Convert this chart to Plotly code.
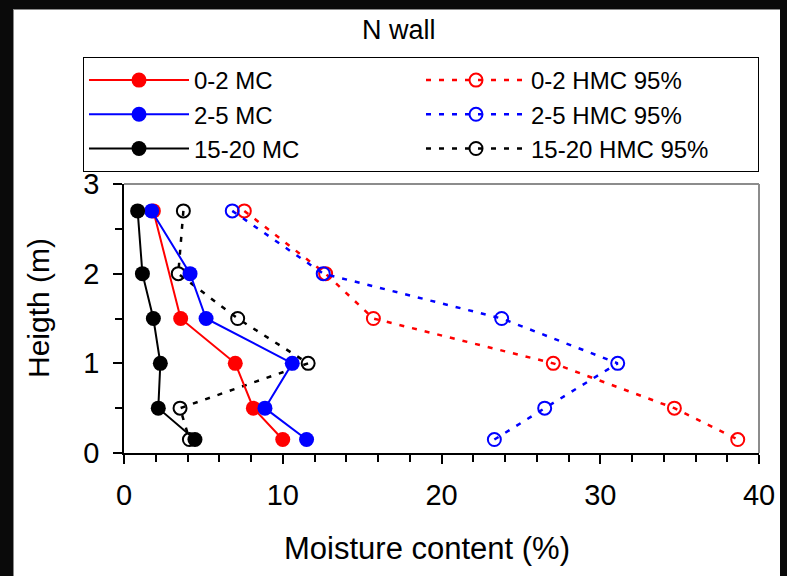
import plotly.graph_objects as go

# ---- data ----
heights = [2.7, 2.0, 1.5, 1.0, 0.5, 0.15]
heights_0_2_mc = [2.7, 1.5, 1.0, 0.5, 0.15]
mc_0_2 = [1.85, 3.57, 7.01, 8.15, 10.0]
mc_2_5 = [1.74, 4.16, 5.17, 10.6, 8.88, 11.5]
mc_15_20 = [0.86, 1.16, 1.85, 2.29, 2.16, 4.47]
hmc_0_2 = [7.58, 12.7, 15.71, 27.04, 34.67, 38.66]
hmc_2_5 = [6.82, 12.55, 23.79, 31.1, 26.5, 23.33]
hmc_15_20 = [3.74, 3.42, 7.16, 11.6, 3.53, 4.12]

x_ticks = [0, 10, 20, 30, 40]
y_ticks = [0, 1, 2, 3]

FONT = "Liberation Sans, Arial, sans-serif"
W, H = 787, 576
ML, MR, MT, MB = 124, 28, 184, 123
PW, PH = W - ML - MR, H - MT - MB


def px2x(px):
    return (px - ML) / PW


def py2y(py):
    return (H - MB - py) / PH


fig = go.Figure()

DASH = "5px,8px"
# HMC series (drawn first, underneath)
fig.add_trace(go.Scatter(x=hmc_0_2, y=heights, name="0-2 HMC 95%", mode="lines+markers",
                         line=dict(color="red", width=2.5, dash=DASH),
                         marker=dict(symbol="circle-open", size=13, color="red", line=dict(width=2)),
                         legendrank=2))
fig.add_trace(go.Scatter(x=hmc_2_5, y=heights, name="2-5 HMC 95%", mode="lines+markers",
                         line=dict(color="blue", width=2.5, dash=DASH),
                         marker=dict(symbol="circle-open", size=13, color="blue", line=dict(width=2)),
                         legendrank=4))
fig.add_trace(go.Scatter(x=hmc_15_20, y=heights, name="15-20 HMC 95%", mode="lines+markers",
                         line=dict(color="black", width=2.5, dash=DASH),
                         marker=dict(symbol="circle-open", size=13, color="black", line=dict(width=2)),
                         legendrank=6))
# MC series
fig.add_trace(go.Scatter(x=mc_0_2, y=heights_0_2_mc, name="0-2 MC", mode="lines+markers",
                         line=dict(color="red", width=2),
                         marker=dict(symbol="circle", size=15, color="red"),
                         legendrank=1))
fig.add_trace(go.Scatter(x=mc_2_5, y=heights, name="2-5 MC", mode="lines+markers",
                         line=dict(color="blue", width=2),
                         marker=dict(symbol="circle", size=15, color="blue"),
                         legendrank=3))
fig.add_trace(go.Scatter(x=mc_15_20, y=heights, name="15-20 MC", mode="lines+markers",
                         line=dict(color="black", width=2),
                         marker=dict(symbol="circle", size=15, color="black"),
                         legendrank=5))

shapes = [
    # plot frame top/right (grey)
    dict(type="line", xref="paper", yref="paper", x0=0, x1=1, y0=1, y1=1,
         line=dict(color="#8c8c8c", width=2), layer="below"),
    dict(type="line", xref="paper", yref="paper", x0=1, x1=1, y0=0, y1=1,
         line=dict(color="#8c8c8c", width=2), layer="below"),
]


def band(x0, y0, w, h, color="#0a0a0a"):
    # decorative outer frame band drawn as an empty annotation box
    return dict(text=" ", xref="paper", yref="paper", x=px2x(x0), y=py2y(y0),
                xanchor="left", yanchor="top", width=w, height=h,
                bgcolor=color, borderpad=0, borderwidth=0, showarrow=False,
                font=dict(size=1, color=color))


annotations = [
    band(0, 0, 13, H),
    band(0, 0, W, 9),
    band(780, 0, 7, H),
    band(13, 9, 1, H - 9, "#8a8a8a"),
    band(13, 9, 767, 1, "#8a8a8a"),
    dict(text="N wall", xref="paper", yref="paper", x=px2x(399), y=py2y(30),
         xanchor="center", yanchor="middle", showarrow=False,
         font=dict(family=FONT, size=27, color="black")),
    dict(text="Moisture content (%)", xref="paper", yref="paper", x=px2x(427), y=py2y(548),
         xanchor="center", yanchor="middle", showarrow=False,
         font=dict(family=FONT, size=31, color="black")),
    dict(text="Heigth (m)", xref="paper", yref="paper", x=px2x(38), y=py2y(308),
         xanchor="center", yanchor="middle", showarrow=False, textangle=-90,
         font=dict(family=FONT, size=30, color="black")),
]

fig.update_layout(
    width=W, height=H,
    margin=dict(l=ML, r=MR, t=MT, b=MB, autoexpand=False),
    paper_bgcolor="white", plot_bgcolor="white",
    font=dict(family=FONT, color="black"),
    showlegend=True,
    legend=dict(orientation="h", x=px2x(83), xanchor="left", y=py2y(57), yanchor="top",
                bgcolor="white", bordercolor="black", borderwidth=1,
                font=dict(family=FONT, size=24, color="black"),
                entrywidth=222, entrywidthmode="pixels", itemwidth=100,
                traceorder="normal", tracegroupgap=0),
    shapes=shapes,
    annotations=annotations,
    xaxis=dict(range=[0, 40], tickvals=x_ticks, ticktext=[str(v) for v in x_ticks],
               showgrid=False, zeroline=False, showline=True, linecolor="black", linewidth=1.5,
               ticks="outside", ticklen=9, tickwidth=1.5, tickcolor="black",
               ticklabelstandoff=6,
               tickfont=dict(family=FONT, size=29, color="black"),
               minor=dict(dtick=2, ticks="outside", ticklen=7, tickwidth=1.5, tickcolor="black", showgrid=False)),
    yaxis=dict(range=[0, 3], tickvals=y_ticks, ticktext=[str(v) for v in y_ticks],
               showgrid=False, zeroline=False, showline=True, linecolor="black", linewidth=1.5,
               ticks="outside", ticklen=9, tickwidth=1.5, tickcolor="black",
               ticklabelstandoff=8,
               tickfont=dict(family=FONT, size=29, color="black"),
               minor=dict(dtick=0.5, ticks="outside", ticklen=7, tickwidth=1.5, tickcolor="black", showgrid=False)),
)

fig.write_html("out.html", config={"displayModeBar": False},
               post_script="document.body.style.margin='0';document.body.style.padding='0';")
